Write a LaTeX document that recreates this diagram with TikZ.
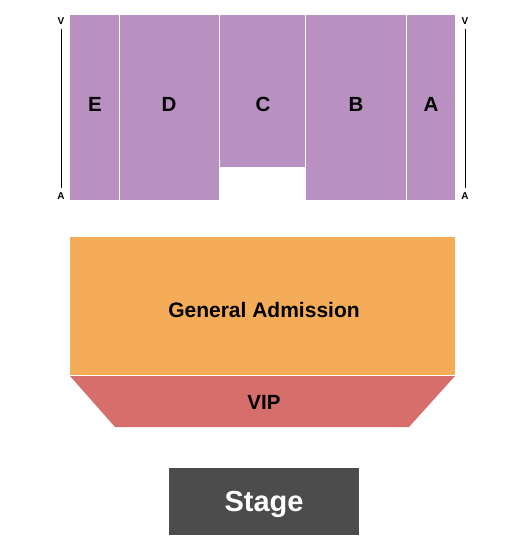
\documentclass[tikz,border=0pt]{standalone}
\usepackage{fontspec}
\setmainfont{Liberation Sans}
\usetikzlibrary{calc}
\definecolor{sec}{RGB}{185,145,192}
\definecolor{ga}{RGB}{244,172,88}
\definecolor{vip}{RGB}{214,111,108}
\definecolor{stg}{RGB}{77,76,77}
\tikzset{
  secbox/.style={fill=sec,draw=none},
  lbl/.style={font=\bfseries\fontsize{20.5}{20.5}\selectfont,text=black},
  tiny/.style={font=\bfseries\fontsize{10}{10}\selectfont,text=black,inner sep=0pt},
}
\begin{document}
\begin{tikzpicture}[x=1pt,y=-1pt]
\useasboundingbox[fill=white] (0,0) rectangle (525,550);
% sections
\fill[sec] (70,15) rectangle (119,200);
\fill[sec] (120,15) rectangle (219,200);
\fill[sec] (220,15) rectangle (305,167);
\fill[sec] (306,15) rectangle (406,200);
\fill[sec] (407,15) rectangle (455,200);
\node[lbl] (e) at (95,104) {E};
\node[lbl] (d) at (169,104) {D};
\node[lbl] (c) at (263,104) {C};
\node[lbl] (b) at (356,104) {B};
\node[lbl] (a) at (431,104) {A};
% row indicators
\node[tiny] (lv) at (61,21) {V};
\node[tiny] (la) at (61,196) {A};
\draw[line width=1pt] ($(lv.south)+(0,4)$) -- ($(la.north)+(0,-4)$);
\node[tiny] (rv) at (465,21) {V};
\node[tiny] (ra) at (465,196) {A};
\draw[line width=1pt] ($(rv.south)+(0,4)$) -- ($(ra.north)+(0,-4)$);
% GA
\fill[ga] (70,237) rectangle (455,375);
\node[font=\bfseries\fontsize{21}{21}\selectfont] (gen) at (264,310) {General Admission};
% VIP
\fill[vip] (70,376) -- (455,376) -- (409,427) -- (115,427) -- cycle;
\node[font=\bfseries\fontsize{20.5}{20.5}\selectfont] (vipl) at (264,402) {VIP};
% Stage
\fill[stg] (169,468) rectangle (359,535);
\node[font=\bfseries\fontsize{29}{29}\selectfont,text=white] (stage) at (264,504) {Stage};
\end{tikzpicture}
\end{document}
